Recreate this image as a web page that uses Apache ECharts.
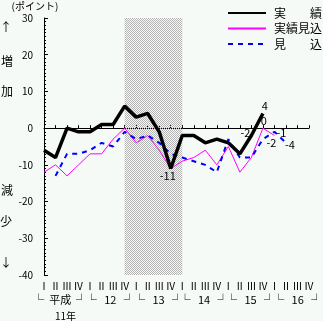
<!DOCTYPE html>
<html><head><meta charset="utf-8">
<script src="https://cdn.jsdelivr.net/npm/echarts@6/dist/echarts.min.js"></script>
<style>html,body{margin:0;padding:0;background:#f6faf6;}#c{width:323px;height:321px;}</style>
</head><body><div id="c"></div>
<script>
// ---- data ----
const years = ['11','12','13','14','15','16'];
const yearLabels = ['平成','12','13','14','15','16'];
const quarters = ['Ⅰ','Ⅱ','Ⅲ','Ⅳ'];
const categories = [];
years.forEach(y => quarters.forEach(q => categories.push(y + q)));
const seriesNames = ['実　　績','実績見込','見　　込'];
const actual   = [-6,-8,0,-1,-1,1,1,6,3,4,-1,-11,-2,-2,-4,-3,-4,-7,-2,4];
const estimate = [-12,-10,-13,-10,-7,-7,-3,0,-4,-2,-6,-11,-9,-8,-6,-10,-5,-12,-8,0,-2];
const forecast = [null,-13,-7,-7,-6,-4,-5,-1,-3,-2,-4,-7,-8,-9,-10,-12,-3,-8,-8,-3,-1,-4];
const yMin = -40, yMax = 30, yStep = 10;
const shadeFrom = '12Ⅳ', shadeTo = '14Ⅰ';
const zeroLineEnd = '16Ⅲ';
const yearLabelPos = [1.4, 5.76, 9.94, 13.89, 17.93, 22.02];
// labelled points: [seriesIndex, dataIndex, offset]
const labelSpecs = [
  [0, 11, [-3, 7]], [0, 18, [-6, -3]], [0, 19, [2, -8]],
  [1, 19, [1, -7]], [1, 20, [-3, 7]],
  [2, 20, [7, 1]], [2, 21, [4, 2]]
];

const FONT = '"Noto Sans CJK JP", sans-serif';
const pat = document.createElement('canvas');
pat.width = 2; pat.height = 2;
const pctx = pat.getContext('2d');
pctx.fillStyle = '#b4b4b4';
pctx.fillRect(0,0,1,1); pctx.fillRect(1,1,1,1);

function buildData(arr, si) {
  return arr.map((v, i) => {
    const spec = labelSpecs.find(s => s[0] === si && s[1] === i);
    if (!spec) return v === null ? '-' : v;
    return {
      value: v, symbol: 'circle', symbolSize: 0,
      label: { show: true, position: 'inside', offset: spec[2], color: '#000',
               fontSize: 11, fontFamily: FONT }
    };
  });
}

function txt(x, y, text, size) {
  return { type: 'text', x: x, y: y, silent: true,
    style: { text: text, fontSize: size, fontFamily: FONT, fill: '#000', align: 'center', verticalAlign: 'middle' } };
}

const chart = echarts.init(document.getElementById('c'), null, {renderer: 'canvas'});
chart.setOption({
  animation: false,
  backgroundColor: '#f6faf6',
  textStyle: { fontFamily: FONT, color: '#000' },
  grid: { left: 44, right: 14, top: 18, bottom: 46, containLabel: false },
  legend: {
    orient: 'vertical', left: 227, top: 7, padding: 0, itemWidth: 38, itemHeight: 12, itemGap: 3.5,
    data: seriesNames, selectedMode: false,
    itemStyle: { color: 'rgba(0,0,0,0)', borderWidth: 0 },
    textStyle: { fontSize: 12, color: '#000', fontFamily: FONT, padding: [0, 0, 0, 3] }
  },
  xAxis: [{
    type: 'category', data: categories, boundaryGap: false,
    axisLine: { lineStyle: { color: '#000', width: 1 } },
    axisTick: { inside: true, length: 3, interval: 0, lineStyle: { color: '#000' } },
    axisLabel: { interval: 0, margin: 6, fontSize: 10, color: '#000', fontFamily: FONT,
                 formatter: v => v.replace(/^\d+/, '') },
    splitLine: { show: false }
  }, {
    type: 'value', min: 0, max: categories.length - 1, position: 'bottom', show: false
  }],
  yAxis: {
    type: 'value', min: yMin, max: yMax, interval: yStep,
    axisLine: { show: true, lineStyle: { color: '#000', width: 1 } },
    axisTick: { show: true, inside: true, length: 4, lineStyle: { color: '#000' } },
    minorTick: { show: true, splitNumber: 10, length: 2, lineStyle: { color: '#000' } },
    axisLabel: { margin: 11, fontSize: 10, color: '#000', fontFamily: FONT },
    splitLine: { show: false }
  },
  series: [{
    name: seriesNames[0], type: 'line', data: buildData(actual, 0), symbol: 'none',
    showAllSymbol: true, z: 4,
    lineStyle: { color: '#000', width: 3.5 }, itemStyle: { color: '#000' },
    markArea: {
      silent: true, z: 1,
      itemStyle: { color: { image: pat, repeat: 'repeat' } },
      data: [[{ xAxis: shadeFrom }, { xAxis: shadeTo }]]
    },
    markLine: {
      silent: true, z: 0.5, symbol: ['none','none'], label: { show: false },
      lineStyle: { color: '#000', width: 1, type: 'solid' },
      data: [[{ coord: [categories[0], 0] }, { coord: [zeroLineEnd, 0] }]]
    }
  }, {
    name: seriesNames[1], type: 'line', data: buildData(estimate, 1), symbol: 'none',
    showAllSymbol: true, z: 3,
    lineStyle: { color: '#ff00ff', width: 1 }, itemStyle: { color: '#ff00ff' }
  }, {
    name: seriesNames[2], type: 'line', data: buildData(forecast, 2), symbol: 'none',
    showAllSymbol: true, z: 3, connectNulls: false,
    lineStyle: { color: '#0000ff', width: 2, type: [5, 5] }, itemStyle: { color: '#0000ff' }
  }]
});

// year group labels placed through the x value scale
const gfx = [
  txt(35, 6, '(ポイント)', 10),
  txt(6, 27, '↑', 12), txt(7, 61, '増', 12), txt(7, 91, '加', 12),
  txt(7, 190, '減', 12), txt(6, 221, '少', 12), txt(6, 262, '↓', 12),
  txt(65.5, 316, '11年', 10)
];
const yearRowY = chart.convertToPixel({ yAxisIndex: 0 }, yMin) + 25;
yearLabelPos.forEach((p, i) => {
  const x = chart.convertToPixel({ xAxisIndex: 1 }, p);
  const t = i === 0 ? '└  ' + yearLabels[i] + '  ┘' : '└   ' + yearLabels[i] + '   ┘';
  gfx.push(txt(x, yearRowY, t, 11));
});
chart.setOption({ graphic: gfx });
</script></body></html>
